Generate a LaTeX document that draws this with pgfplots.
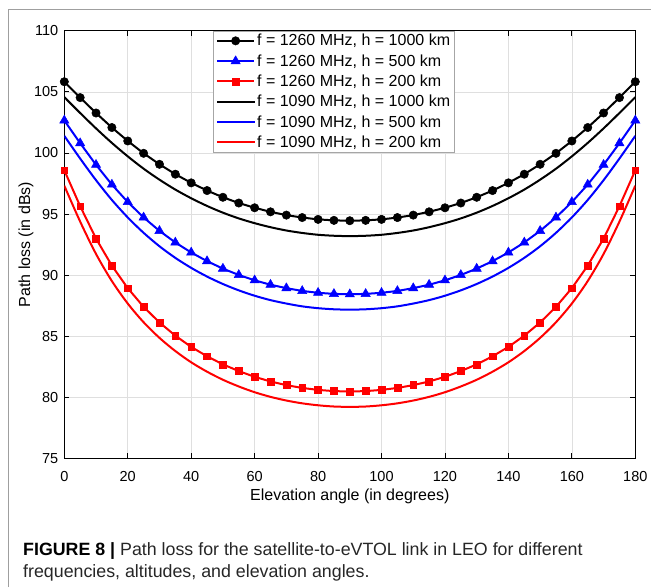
\documentclass[border=0pt]{standalone}
\usepackage{fontspec}
\setmainfont{Liberation Sans}
\usepackage{pgfplots}
\pgfplotsset{compat=1.18}
\begin{document}
\begin{tikzpicture}
\useasboundingbox (0,0) rectangle (651pt,587pt);
\draw[gray!75, line width=1pt] (8pt,0) -- (8pt,577pt) -- (651pt,577pt);
\begin{axis}[
  at={(64.3pt,128.7pt)}, anchor=south west,
  scale only axis, width=571pt, height=427.5pt,
  xmin=0, xmax=180, ymin=75, ymax=110,
  xtick={0,20,...,180}, ytick={75,80,...,110},
  grid=major, grid style={gray!25, line width=0.6pt},
  axis line style={line width=0.8pt},
  tick align=inside, major tick length=5pt,
  tick style={black, line width=0.8pt},
  /pgf/number format/assume math mode=true,
  tick label style={font=\fontsize{14.5}{17}\selectfont},
  xticklabel style={yshift=-10pt},
  yticklabel style={xshift=-2.5pt},
  label style={font=\fontsize{16}{19}\selectfont},
  xlabel={Elevation angle (in degrees)},
  ylabel={Path loss (in dBs)},
  xlabel style={at={(axis description cs:0.5,0)}, anchor=center, yshift=-38pt},
  ylabel style={at={(axis description cs:-0.067,0.5)}, anchor=center},
  legend style={at={(rel axis cs:0.261,1)}, anchor=north west,
    draw=gray!70, line width=0.6pt, fill=white,
    font=\fontsize{16}{19}\selectfont,
    inner xsep=2.5pt, inner ysep=1.2pt, row sep=3.2pt},
  legend cell align=left,
  legend image code/.code={\draw[mark repeat=2,mark phase=2,#1] plot coordinates {(0pt,0pt) (18.5pt,0pt) (37pt,0pt)};},
]
% f = 1260 MHz, h = 1000 km
\addplot[color=black, line width=2pt, mark=*, mark size=4.2pt, mark options={solid, fill=black, line width=0.5pt}] coordinates {
(0,105.83) (5,104.53) (10,103.27) (15,102.08) (20,100.98) (25,99.97) (30,99.07) (35,98.26) (40,97.55) (45,96.92)
(50,96.37) (55,95.90) (60,95.51) (65,95.18) (70,94.91) (75,94.71) (80,94.56) (85,94.48) (90,94.45)
(95,94.48) (100,94.56) (105,94.71) (110,94.91) (115,95.18) (120,95.51) (125,95.90) (130,96.37) (135,96.92)
(140,97.55) (145,98.26) (150,99.07) (155,99.97) (160,100.98) (165,102.08) (170,103.27) (175,104.53) (180,105.83)};
\addlegendentry{f = 1260 MHz, h = 1000 km}
% f = 1260 MHz, h = 500 km
\addplot[color=blue, line width=2pt, mark=triangle*, mark size=5.3pt, mark options={solid, fill=blue, line width=0.5pt}] coordinates {
(0,102.66) (5,100.80) (10,99.03) (15,97.41) (20,95.98) (25,94.72) (30,93.62) (35,92.67) (40,91.85) (45,91.14)
(50,90.53) (55,90.01) (60,89.57) (65,89.21) (70,88.93) (75,88.70) (80,88.55) (85,88.46) (90,88.43)
(95,88.46) (100,88.55) (105,88.70) (110,88.93) (115,89.21) (120,89.57) (125,90.01) (130,90.53) (135,91.14)
(140,91.85) (145,92.67) (150,93.62) (155,94.72) (160,95.98) (165,97.41) (170,99.03) (175,100.80) (180,102.66)};
\addlegendentry{f = 1260 MHz, h = 500 km}
% f = 1260 MHz, h = 200 km
\addplot[color=red, line width=2pt, mark=square*, mark size=3.4pt, mark options={solid, fill=red, line width=0.5pt}] coordinates {
(0,98.58) (5,95.64) (10,92.99) (15,90.77) (20,88.93) (25,87.40) (30,86.12) (35,85.04) (40,84.12) (45,83.35)
(50,82.69) (55,82.14) (60,81.67) (65,81.29) (70,80.99) (75,80.76) (80,80.60) (85,80.50) (90,80.47)
(95,80.50) (100,80.60) (105,80.76) (110,80.99) (115,81.29) (120,81.67) (125,82.14) (130,82.69) (135,83.35)
(140,84.12) (145,85.04) (150,86.12) (155,87.40) (160,88.93) (165,90.77) (170,92.99) (175,95.64) (180,98.58)};
\addlegendentry{f = 1260 MHz, h = 200 km}
% f = 1090 MHz, h = 1000 km
\addplot[color=black, line width=2pt, smooth] coordinates {
(0,104.57) (5,103.27) (10,102.01) (15,100.82) (20,99.72) (25,98.71) (30,97.81) (35,97.00) (40,96.29) (45,95.66)
(50,95.11) (55,94.64) (60,94.25) (65,93.92) (70,93.65) (75,93.45) (80,93.30) (85,93.22) (90,93.19)
(95,93.22) (100,93.30) (105,93.45) (110,93.65) (115,93.92) (120,94.25) (125,94.64) (130,95.11) (135,95.66)
(140,96.29) (145,97.00) (150,97.81) (155,98.71) (160,99.72) (165,100.82) (170,102.01) (175,103.27) (180,104.57)};
\addlegendentry{f = 1090 MHz, h = 1000 km}
% f = 1090 MHz, h = 500 km
\addplot[color=blue, line width=2pt, smooth] coordinates {
(0,101.40) (5,99.54) (10,97.77) (15,96.15) (20,94.72) (25,93.46) (30,92.36) (35,91.41) (40,90.59) (45,89.88)
(50,89.27) (55,88.75) (60,88.31) (65,87.95) (70,87.67) (75,87.44) (80,87.29) (85,87.20) (90,87.17)
(95,87.20) (100,87.29) (105,87.44) (110,87.67) (115,87.95) (120,88.31) (125,88.75) (130,89.27) (135,89.88)
(140,90.59) (145,91.41) (150,92.36) (155,93.46) (160,94.72) (165,96.15) (170,97.77) (175,99.54) (180,101.40)};
\addlegendentry{f = 1090 MHz, h = 500 km}
% f = 1090 MHz, h = 200 km
\addplot[color=red, line width=2pt, smooth] coordinates {
(0,97.32) (5,94.38) (10,91.73) (15,89.51) (20,87.67) (25,86.14) (30,84.86) (35,83.78) (40,82.86) (45,82.09)
(50,81.43) (55,80.88) (60,80.41) (65,80.03) (70,79.73) (75,79.50) (80,79.34) (85,79.24) (90,79.21)
(95,79.24) (100,79.34) (105,79.50) (110,79.73) (115,80.03) (120,80.41) (125,80.88) (130,81.43) (135,82.09)
(140,82.86) (145,83.78) (150,84.86) (155,86.14) (160,87.67) (165,89.51) (170,91.73) (175,94.38) (180,97.32)};
\addlegendentry{f = 1090 MHz, h = 200 km}
\end{axis}
\node[anchor=base west, inner sep=0pt, text=black!85, font=\fontsize{17.8}{21}\selectfont] at (23pt,32pt)
  {\textbf{\color{black}FIGURE 8 |} Path loss for the satellite-to-eVTOL link in LEO for different};
\node[anchor=base west, inner sep=0pt, text=black!85, font=\fontsize{17.8}{21}\selectfont] at (23pt,10pt)
  {frequencies, altitudes, and elevation angles.};
\end{tikzpicture}
\end{document}
